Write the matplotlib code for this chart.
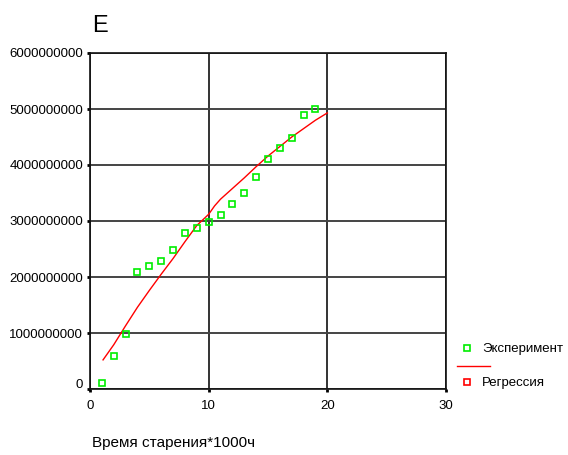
import numpy as np
import matplotlib
matplotlib.use("Agg")
import matplotlib.pyplot as plt
import matplotlib.transforms as mtransforms
from matplotlib.lines import Line2D

plt.rcParams['font.family'] = ['Liberation Sans', 'DejaVu Sans']

# experimental points
exp_x = [1, 2, 3, 4, 5, 6, 7, 8, 9, 10, 11, 12, 13, 14, 15, 16, 17, 18, 19]
exp_y = [0.10, 0.59, 0.99, 2.09, 2.20, 2.29, 2.48, 2.79, 2.88, 2.99,
         3.10, 3.30, 3.50, 3.79, 4.10, 4.30, 4.49, 4.89, 5.00]

# regression curve
reg_x = [1.1, 2, 3, 4, 5, 6, 7, 8, 9, 10, 10.5, 11, 12, 13, 14, 15, 16, 17, 18, 19, 20]
reg_y = [0.52, 0.79, 1.13, 1.46, 1.76, 2.05, 2.33, 2.63, 2.92, 3.12, 3.27, 3.39,
         3.58, 3.77, 3.97, 4.16, 4.33, 4.50, 4.65, 4.80, 4.93]

exp_y = np.array(exp_y) * 1e9
reg_y = np.array(reg_y) * 1e9

fig = plt.figure(figsize=(5.68, 4.55), dpi=100)
ax = fig.add_axes([90 / 568, 1 - 389 / 455, 356 / 568, 336 / 455])

ax.plot(reg_x, reg_y, color='red', lw=1.0, zorder=3)
ax.plot(exp_x, exp_y, ls='none', marker='s', ms=5, mfc='none', mec='#00ee00', mew=1.2, zorder=4)

ax.set_xlim(0, 30)
ax.set_ylim(0, 6e9)
ax.set_xticks([0, 10, 20, 30])
ax.set_yticks(np.arange(0, 7e9, 1e9))
ax.set_yticklabels([str(int(v)) for v in np.arange(0, 7e9, 1e9)])
ax.xaxis.grid(True, color='#111111', lw=1.2)
ax.yaxis.grid(True, color='#444444', lw=1.4)
ax.set_axisbelow(True)
for s in ax.spines.values():
    s.set_color('#111111')
    s.set_linewidth(1.2)
ax.tick_params(length=2, width=2, labelsize=9.5)
ax.tick_params(axis='x', pad=6)
ax.tick_params(axis='y', pad=3)

# the zero label on y sits a little above its tick
lbl0 = ax.get_yticklabels()[0]
lbl0.set_transform(lbl0.get_transform() + mtransforms.ScaledTranslation(0, 6 / 100, fig.dpi_scale_trans))

fig.text(92 / 568, 1 - 26 / 455, 'E', fontsize=17, va='center', ha='left')
fig.text(92 / 568, 1 - 443 / 455, 'Время старения*1000ч', fontsize=11, va='center', ha='left')

# legend
fig.add_artist(Line2D([467 / 568], [1 - 348 / 455], marker='s', ms=4.5, mfc='none',
                      mec='#00ee00', mew=1.2, transform=fig.transFigure))
fig.text(482 / 568, 1 - 349 / 455, 'Эксперимент', fontsize=9.5, va='center', ha='left')
fig.add_artist(Line2D([457 / 568, 490 / 568], [1 - 366 / 455, 1 - 366 / 455], color='red',
                      lw=1.0, transform=fig.transFigure))
fig.add_artist(Line2D([467 / 568], [1 - 382 / 455], marker='s', ms=4.5, mfc='none',
                      mec='red', mew=1.2, transform=fig.transFigure))
fig.text(482 / 568, 1 - 383 / 455, 'Регрессия', fontsize=9.5, va='center', ha='left')

fig.savefig('out.png', dpi=100)
